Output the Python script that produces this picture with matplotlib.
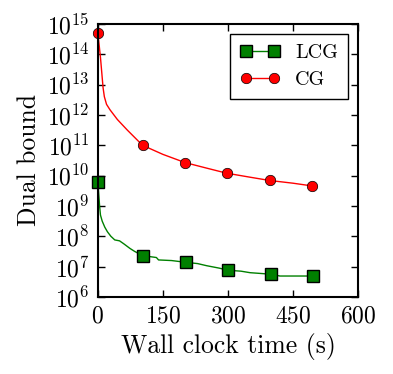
import numpy as np
import matplotlib
matplotlib.use("Agg")
import matplotlib.pyplot as plt

plt.rcParams['font.family'] = 'serif'
plt.rcParams['font.serif'] = ['cmr10']
plt.rcParams['mathtext.fontset'] = 'cm'
plt.rcParams['axes.formatter.use_mathtext'] = True

# curve data (time in s, log10 of dual bound)
cg_time = [0, 3, 6, 9, 12, 15, 20, 28, 45, 68, 103, 150, 201, 250, 297, 350, 396, 450, 494, 505]
cg_log = [14.7, 14.3, 13.9, 13.4, 12.9, 12.6, 12.35, 12.17, 11.85, 11.5, 11.0, 10.7, 10.43, 10.25, 10.08, 9.95, 9.84, 9.75, 9.66, 9.64]
cg_marks = [0, 103, 201, 297, 396, 494]

lcg_time = [0, 2, 4, 6, 10, 16, 22, 30, 39, 50, 60, 74, 85, 105, 120, 135, 140, 170, 204, 230,
            251, 280, 300, 330, 351, 399, 420, 497, 505]
lcg_log = [9.8, 9.4, 9.0, 8.7, 8.5, 8.3, 8.15, 8.0, 7.88, 7.85, 7.75, 7.6, 7.5, 7.35, 7.33, 7.3, 7.22, 7.2, 7.14, 7.1,
           7.03, 6.95, 6.88, 6.85, 6.8, 6.75, 6.69, 6.69, 6.69]
lcg_marks = [0, 105, 204, 300, 399, 497]

x_ticks = [0, 150, 300, 450, 600]

fig = plt.figure(figsize=(3.93, 3.74), dpi=100)
ax = fig.add_axes([0.249, 0.206, 0.662, 0.730])

lcg_y = 10 ** np.array(lcg_log)
cg_y = 10 ** np.array(cg_log)
ax.plot(lcg_time, lcg_y, color='g', lw=1.0, marker='s', ms=8, mfc='g', mec='k', mew=1.0,
        markevery=[lcg_time.index(t) for t in lcg_marks], label='LCG', clip_on=False)
ax.plot(cg_time, cg_y, color='r', lw=1.0, marker='o', ms=7.5, mfc='r', mec='k', mew=0.5,
        markevery=[cg_time.index(t) for t in cg_marks], label='CG', clip_on=False)

ax.set_yscale('log')
ax.set_xlim(0, 600)
ax.set_ylim(1e6, 1e15)
ax.set_xticks(x_ticks)
ax.set_yticks([10.0 ** k for k in range(6, 16)])
ax.tick_params(which='both', direction='in', top=True, right=True, labelsize=17)
ax.tick_params(which='major', length=5, width=1, pad=6)
ax.tick_params(which='minor', length=2.5, width=0.8)
for s in ax.spines.values():
    s.set_linewidth(1.5)

ax.set_xlabel('Wall clock time (s)', fontsize=18.5, labelpad=4)
ax.set_ylabel('Dual bound', fontsize=18.5, labelpad=4)

leg = ax.legend(loc='upper right', numpoints=2, fontsize=14.5, fancybox=False, edgecolor='k',
                framealpha=1, borderpad=0.5, handlelength=2.0, handletextpad=0.75,
                labelspacing=0.43, borderaxespad=0.5)
leg.get_frame().set_linewidth(1.0)

fig.savefig('out.png', dpi=100)
